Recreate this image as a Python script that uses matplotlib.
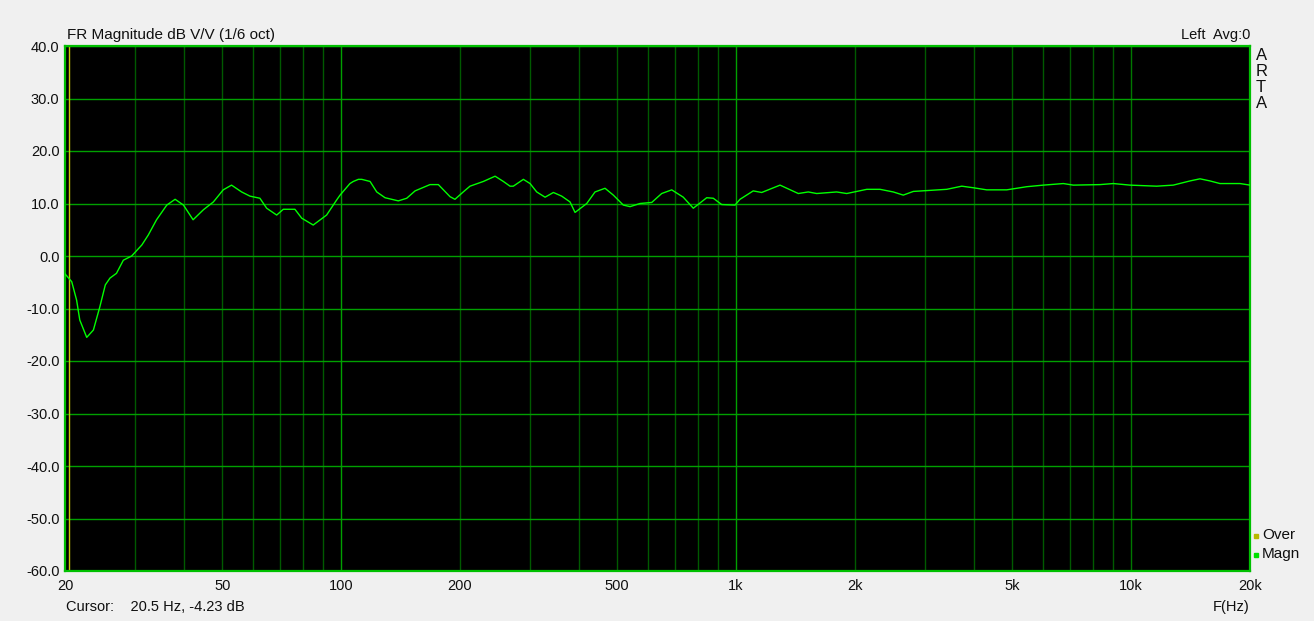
import numpy as np
import matplotlib.pyplot as plt
from matplotlib.ticker import FixedLocator, NullFormatter

plt.rcParams['font.family'] = ['Liberation Sans', 'DejaVu Sans']

# frequency response (Hz, dB)
freq = [20, 20.8, 21.4, 21.8, 22.7, 23.6, 24.5, 25.3, 26.0, 27.0, 28.1, 29.5,
        31.3, 32.5, 34.1, 36.2, 38.0, 39.9, 42.2, 44.8, 47.5, 50.3, 52.8, 56.0,
        58.8, 62.3, 64.8, 68.7, 71.4, 76.4, 79.5, 85.0, 91.9, 97.5, 99.4, 105.3,
        107.4, 110.6, 112.8, 118.4, 123.1, 129.2, 139.6, 146.6, 153.9, 167.9,
        176.3, 188.7, 194.2, 203.8, 212.0, 229.2, 245.4, 257.5, 267.7, 272.9,
        289.4, 300.9, 312.8, 328.4, 344.7, 361.9, 379.8, 391.1, 418.7, 439.4,
        465.8, 488.8, 518.2, 538.9, 571.1, 611.6, 648.0, 687.0, 735.0, 779.2,
        842.6, 875.6, 919.4, 993.8, 1023, 1105, 1161, 1292, 1437, 1523, 1600,
        1797, 1906, 2142, 2314, 2500, 2650, 2810, 3414, 3726, 3986, 4310, 4844,
        5444, 5995, 6737, 7140, 8344, 9014, 9937, 11608, 12788, 14097, 14943,
        15838, 16790, 18868, 20000]
magn = [-3.4, -4.9, -8.4, -12.2, -15.5, -14.1, -9.7, -5.5, -4.2, -3.3, -0.8, 0.0,
        2.1, 4.0, 6.9, 9.7, 10.8, 9.7, 6.9, 8.8, 10.3, 12.6, 13.5, 12.2,
        11.4, 11.0, 9.1, 7.8, 8.9, 8.9, 7.2, 5.9, 7.8, 10.7, 11.6, 13.8,
        14.2, 14.6, 14.6, 14.2, 12.2, 11.1, 10.5, 11.0, 12.4, 13.6,
        13.6, 11.3, 10.8, 12.2, 13.3, 14.2, 15.2, 14.2, 13.3, 13.3,
        14.6, 13.8, 12.2, 11.2, 12.1, 11.4, 10.3, 8.3, 10.0, 12.2,
        12.9, 11.6, 9.7, 9.4, 10.0, 10.2, 11.9, 12.6, 11.2, 9.1,
        11.1, 11.0, 9.8, 9.7, 10.8, 12.4, 12.1, 13.5, 11.9, 12.2, 11.9,
        12.2, 11.9, 12.7, 12.7, 12.2, 11.6, 12.3, 12.7, 13.3, 13.0, 12.6, 12.6,
        13.2, 13.5, 13.8, 13.5, 13.6, 13.8, 13.5, 13.3, 13.5, 14.3, 14.7,
        14.3, 13.8, 13.8, 13.5]

cursor_f = 20.5
cursor_db = -4.23

x_ticks = [20, 50, 100, 200, 500, 1000, 2000, 5000, 10000, 20000]
x_labels = ['20', '50', '100', '200', '500', '1k', '2k', '5k', '10k', '20k']
y_ticks = list(range(-60, 41, 10))

fig = plt.figure(figsize=(13.14, 6.21), dpi=100, facecolor='#f0f0f0')
ax = fig.add_axes([65 / 1314, 50 / 621, 1185 / 1314, 525 / 621])
ax.set_facecolor('black')
ax.set_xscale('log')
ax.set_xlim(20, 20000)
ax.set_ylim(-60, 40)

# grid: 100 Hz and 1 kHz brighter, others darker
minor = [m * d for d in (10, 100, 1000, 10000) for m in range(2, 10)
         if 20 < m * d < 20000]
for f in minor:
    ax.axvline(f, color='#005a00', lw=1, zorder=1)
ax.axvline(10000, color='#007800', lw=1, zorder=1)
for f in (100, 1000):
    ax.axvline(f, color='#00a000', lw=1, zorder=1)
for y in y_ticks:
    ax.axhline(y, color='#00a000', lw=1, zorder=1)

ax.axvline(cursor_f, color='#c8c800', lw=1, zorder=2)
ax.plot(freq, magn, color='#00ff00', lw=1, zorder=3)

for s in ax.spines.values():
    s.set_color('#00c000')
    s.set_linewidth(1.6)

ax.xaxis.set_major_locator(FixedLocator(x_ticks))
ax.set_xticklabels(x_labels)
ax.xaxis.set_minor_formatter(NullFormatter())
ax.set_yticks(y_ticks)
ax.set_yticklabels([f'{v:.1f}' for v in y_ticks])
ax.tick_params(which='both', length=0, labelsize=10.5, colors='#101010', pad=6)
ax.tick_params(axis='y', pad=4)

fig.text(67 / 1314, 1 - 35 / 621, 'FR Magnitude dB V/V (1/6 oct)',
         fontsize=11, color='#101010', va='center', ha='left')
fig.text(1250 / 1314, 1 - 35 / 621, 'Left  Avg:0',
         fontsize=10.5, color='#101010', va='center', ha='right')
for i, ch in enumerate('ARTA'):
    fig.text(1256 / 1314, 1 - (55 + i * 16) / 621, ch,
             fontsize=12, color='#101010', va='center', ha='left')

fig.text(1262 / 1314, 1 - 535 / 621, 'Over', fontsize=11, color='#101010',
         va='center', ha='left')
fig.text(1262 / 1314, 1 - 554 / 621, 'Magn', fontsize=11, color='#101010',
         va='center', ha='left')
fig.patches.append(plt.Rectangle((1254 / 1314, 1 - 538 / 621), 4 / 1314, 4 / 621,
                                 transform=fig.transFigure, color='#b8b800'))
fig.patches.append(plt.Rectangle((1254 / 1314, 1 - 557 / 621), 4 / 1314, 4 / 621,
                                 transform=fig.transFigure, color='#00e000'))

fig.text(1250 / 1314, 1 - 607 / 621, 'F(Hz)', fontsize=10.5, color='#101010',
         va='center', ha='right')
fig.text(66 / 1314, 1 - 607 / 621,
         f'Cursor:    {cursor_f} Hz, {cursor_db:.2f} dB',
         fontsize=10.5, color='#101010', va='center', ha='left')

fig.savefig('out.png', dpi=100, facecolor=fig.get_facecolor())
